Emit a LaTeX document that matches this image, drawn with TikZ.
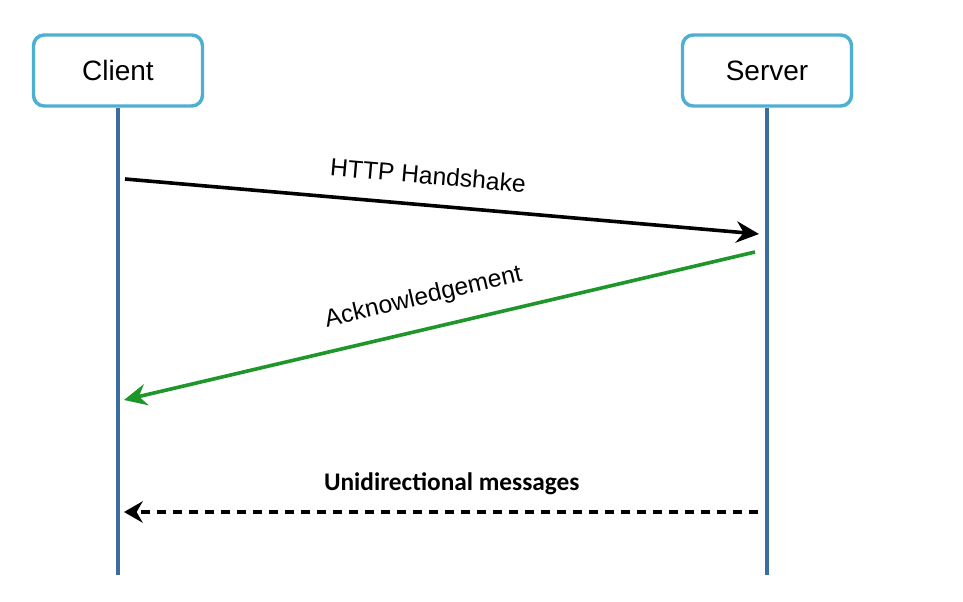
\documentclass[tikz,border=0pt]{standalone}
\usepackage{fontspec}
\setmainfont{Liberation Sans}
\newfontfamily\msgfont{Carlito}
\usetikzlibrary{arrows.meta}
\definecolor{boxblue}{HTML}{4DB0D2}
\definecolor{lifeblue}{HTML}{3B6E9E}
\definecolor{ackgreen}{HTML}{1E962A}
\begin{document}
\begin{tikzpicture}[x=0.75pt, y=-0.75pt, line join=round, >={Stealth[length=17pt,width=16pt]},
    actor/.style={draw=boxblue, line width=2.6pt, rounded corners=8pt, minimum width=126.75pt, minimum height=53.25pt, font=\fontsize{21}{25}\selectfont},
    lifeline/.style={draw=lifeblue, line width=2.5pt},
    msg/.style={line width=2.7pt, ->},
    msglabel/.style={font=\fontsize{18.5}{22}\selectfont, sloped}]
    \useasboundingbox (0,0) rectangle (963,602);
    \node[actor] (client) at (118,70.5) {Client};
    \node[actor] (server) at (767,70.5) {Server};
    \coordinate (bottom) at (0,575);
    \foreach \n in {client,server}\draw[lifeline] (\n) -- (\n |- bottom);
    % message end points
    \coordinate (hs start) at (125,179);
    \coordinate (hs end) at (759,234);
    \coordinate (ack start) at (755,252);
    \coordinate (ack end) at (124,400);
    \coordinate (uni start) at (758,512);
    \coordinate (uni end) at (124,512);
    \draw[msg] (hs start) -- node[msglabel, pos=0.474, above=11pt] {HTTP Handshake} (hs end);
    \draw[msg, draw=ackgreen, fill=ackgreen] (ack start) -- node[msglabel, pos=0.514, above=10pt] {Acknowledgement} (ack end);
    \draw[msg, dash pattern=on 7pt off 5pt, >={Stealth[length=14pt,width=16pt]}] (uni start) -- node[above=8pt, pos=0.483, font=\msgfont\bfseries\fontsize{19}{23}\selectfont] {Unidirectional messages} (uni end);
\end{tikzpicture}
\end{document}
